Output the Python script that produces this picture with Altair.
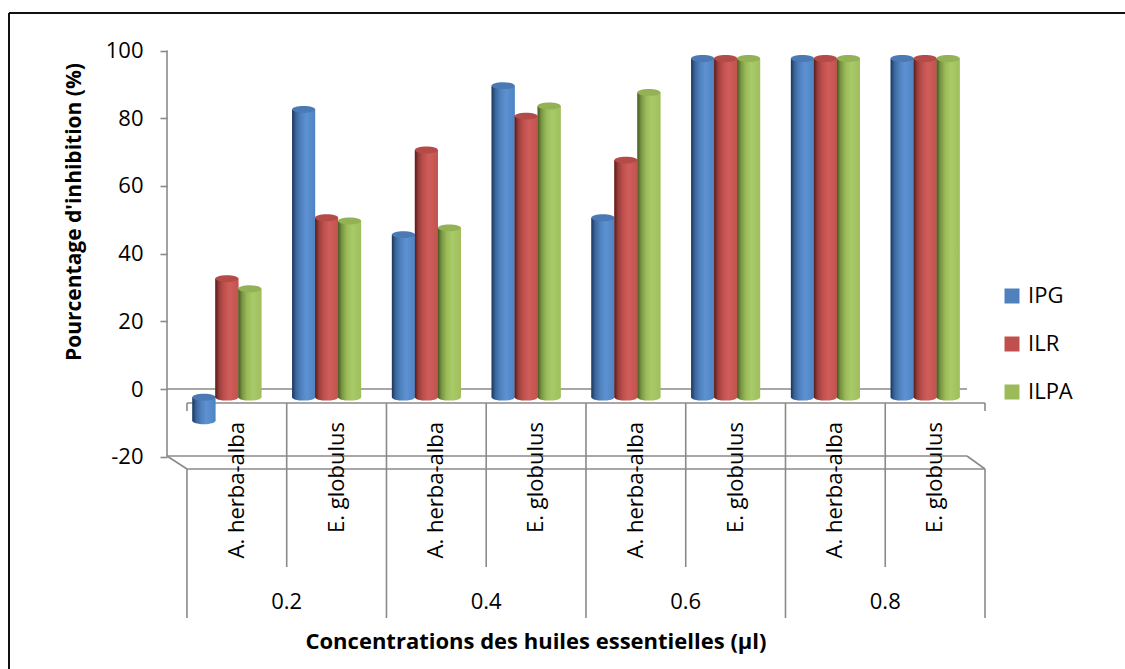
import altair as alt
import pandas as pd

# ---- data -----------------------------------------------------------------
CONCENTRATIONS = ["0.2", "0.4", "0.6", "0.8"]
SPECIES = ["A. herba-alba", "E. globulus"]
SERIES = ["IPG", "ILR", "ILPA"]
IPG = [-7, 85, 48, 92, 53, 100, 100, 100]
ILR = [35, 53, 73, 83, 70, 100, 100, 100]
ILPA = [32, 52, 50, 86, 90, 100, 100, 100]
Y_TICKS = [-20, 0, 20, 40, 60, 80, 100]

SERIES_VALUES = dict(zip(SERIES, [IPG, ILR, ILPA]))
GROUPS = [(c, s) for c in CONCENTRATIONS for s in SPECIES]
GROUP_KEYS = [f"{c} {s}" for c, s in GROUPS]

rows = []
for i, (c, s) in enumerate(GROUPS):
    for name in SERIES:
        rows.append({"group": GROUP_KEYS[i], "conc": c, "species": s,
                     "series": name, "value": SERIES_VALUES[name][i]})
bars_df = pd.DataFrame(rows)
groups_df = pd.DataFrame({"group": GROUP_KEYS,
                          "conc": [c for c, _ in GROUPS],
                          "species": [s for _, s in GROUPS],
                          "idx": list(range(len(GROUPS)))})
ticks_df = pd.DataFrame({"tick": Y_TICKS})
one = pd.DataFrame({"k": [0]})

# ---- styling --------------------------------------------------------------
FONT = "Open Sans"
GRID = "#8a8a8a"
BASE = {"IPG": "#4F81BD", "ILR": "#C0504D", "ILPA": "#9BBB59"}
TOPS = {"IPG": "#4a79b3", "ILR": "#b54b48", "ILPA": "#93b255"}
SHADES = {
    "IPG": ["#1c3557", "#3a659c", "#4f81bd", "#5d91d2", "#4f84c4"],
    "ILR": ["#561b1a", "#983e3c", "#c0504d", "#cf5e5b", "#c4534f"],
    "ILPA": ["#44571f", "#789443", "#9bbb59", "#a9ca68", "#9ebf5b"],
}
STOPS = [0.0, 0.16, 0.38, 0.62, 1.0]


def cylinder(series):
    return alt.Gradient(
        gradient="linear", x1=0, x2=1, y1=0, y2=0,
        stops=[alt.GradientStop(offset=o, color=c)
               for o, c in zip(STOPS, SHADES[series])])


ELLIPSE = "M-1,0A1,0.3,0,1,0,1,0A1,0.3,0,1,0,-1,0Z"

BAR_X = alt.Scale(type="band", domain=GROUP_KEYS, paddingInner=0,
                  paddingOuter=0.1, align=0.5)
TABLE_X = alt.Scale(type="band", domain=GROUP_KEYS, paddingInner=0,
                    paddingOuter=0.1, align=1)
OFFSET = alt.Scale(type="band", domain=SERIES, paddingInner=0, paddingOuter=0.67)
BAR_Y = alt.Scale(domain=[-23, 104], nice=False)
AXIS_Y = alt.Scale(domain=[-25.36, 101.64], nice=False)

W, H = 818, 430


def seg(x1, y1, x2, y2, color=GRID, width=1.6):
    return alt.Chart(one).mark_rule(color=color, strokeWidth=width).encode(
        x=alt.value(x1), y=alt.value(y1), x2=alt.value(x2), y2=alt.value(y2))


# ---- frame & value axis ---------------------------------------------------
frame = alt.layer(
    seg(-158, -32, -158, 700, color="#111111", width=2),
    seg(-158, -32, 1000, -32, color="#111111", width=2),
)

value_axis = alt.Chart(ticks_df).mark_rule(color=GRID, strokeWidth=1.6).encode(
    x=alt.value(0),
    y=alt.Y("min(tick):Q", scale=AXIS_Y, title=None,
            axis=alt.Axis(values=Y_TICKS, domain=False, grid=False,
                          tickSize=7, tickColor=GRID, tickWidth=1.6,
                          labelExpr="'' + datum.value",
                          labelFont=FONT, labelFontSize=22, labelColor="black",
                          labelPadding=17)),
    y2="max(tick):Q",
)

# 3D walls and floor
walls = alt.layer(
    seg(0, 344, 800, 344),      # back line at zero
    seg(0, 411, 800, 411),      # back floor edge
    seg(20, 424, 818, 424),     # front floor edge
    seg(0, 411, 20, 424),
    seg(800, 411, 818, 424),
    seg(20, 358, 818, 358),     # front line at zero
)

# ---- category table -------------------------------------------------------
sub_div = alt.Chart(groups_df).transform_filter(
    alt.datum.species == SPECIES[1]
).mark_rule(color=GRID, strokeWidth=1.6).encode(
    x=alt.X("group:N", scale=TABLE_X, axis=None, bandPosition=0),
    y=alt.value(358), y2=alt.value(522))

conc_div = alt.Chart(groups_df).transform_filter(
    (alt.datum.species == SPECIES[0]) & (alt.datum.idx > 0)
).mark_rule(color=GRID, strokeWidth=1.6).encode(
    x=alt.X("group:N", scale=TABLE_X, axis=None, bandPosition=0),
    y=alt.value(358), y2=alt.value(573))


def edge(pos, which):
    base = alt.Chart(groups_df).transform_filter(alt.datum.idx == which)
    xenc = alt.X("group:N", scale=TABLE_X, axis=None, bandPosition=pos)
    return alt.layer(
        base.mark_rule(color=GRID, strokeWidth=1.6).encode(
            x=xenc, y=alt.value(358), y2=alt.value(366)),
        base.mark_rule(color=GRID, strokeWidth=1.6).encode(
            x=xenc, y=alt.value(424), y2=alt.value(573)),
    )


species_labels = alt.Chart(groups_df).mark_text(
    angle=270, align="right", baseline="middle", font=FONT, fontSize=22,
    color="black"
).encode(x=alt.X("group:N", scale=TABLE_X, axis=None, bandPosition=0.5),
         y=alt.value(377), text="species:N")

conc_labels = alt.Chart(groups_df).transform_filter(
    alt.datum.species == SPECIES[1]
).mark_text(align="center", baseline="middle", font=FONT, fontSize=22,
            color="black").encode(
    x=alt.X("group:N", scale=TABLE_X, axis=None, bandPosition=0),
    y=alt.value(557), text="conc:N")

# ---- cylinders ------------------------------------------------------------
bx = alt.X("group:N", scale=BAR_X, axis=None)
bo = alt.XOffset("series:N", scale=OFFSET)

bars_base = alt.Chart(bars_df).transform_calculate(
    base="0", top="max(datum.value, 0)", bottom="min(datum.value, 0)")

legend_bars = bars_base.mark_bar().encode(
    x=bx, xOffset=bo,
    y=alt.Y("value:Q", scale=BAR_Y, axis=None), y2="base:Q",
    color=alt.Color("series:N", scale=alt.Scale(domain=SERIES,
                                                range=[BASE[s] for s in SERIES]),
                    legend=alt.Legend(orient="none", legendX=834, legendY=240,
                                      title=None, symbolType="square",
                                      symbolSize=225, symbolStrokeWidth=0,
                                      labelFont=FONT, labelFontSize=22,
                                      labelColor="black", rowPadding=26,
                                      labelOffset=5, padding=0)),
)

cyl_layers = [legend_bars]
for s in SERIES:
    part = bars_base.transform_filter(alt.datum.series == s)
    cyl_layers.append(part.mark_point(
        shape=ELLIPSE, size=529, filled=True, fill=cylinder(s), opacity=1,
        strokeWidth=0).encode(x=bx, xOffset=bo,
                              y=alt.Y("bottom:Q", scale=BAR_Y, axis=None)))
    cyl_layers.append(part.mark_bar(fill=cylinder(s)).encode(
        x=bx, xOffset=bo,
        y=alt.Y("value:Q", scale=BAR_Y, axis=None), y2="base:Q"))
    cyl_layers.append(part.mark_point(
        shape=ELLIPSE, size=529, filled=True, fill=TOPS[s], opacity=1,
        strokeWidth=0).encode(x=bx, xOffset=bo,
                              y=alt.Y("top:Q", scale=BAR_Y, axis=None)))
cylinders = alt.layer(*cyl_layers)

# ---- titles ---------------------------------------------------------------
y_title = alt.Chart(one).mark_text(
    angle=270, align="center", baseline="middle", font=FONT, fontSize=21,
    fontWeight="bold", color="black"
).encode(x=alt.value(-92), y=alt.value(167),
         text=alt.value("Pourcentage d'inhibition (%)"))

x_title = alt.Chart(one).mark_text(
    align="center", baseline="middle", font=FONT, fontSize=22,
    fontWeight="bold", color="black"
).encode(x=alt.value(369), y=alt.value(597),
         text=alt.value("Concentrations des huiles essentielles (µl)"))

chart = alt.layer(
    frame, walls, value_axis, sub_div, conc_div, edge(0, 0), edge(1, 7),
    species_labels, conc_labels, cylinders, y_title, x_title,
).resolve_scale(
    x="independent", y="independent", xOffset="independent"
).properties(
    width=W, height=H,
    autosize=alt.AutoSizeParams(type="none"),
    padding={"left": 167, "top": 45, "right": 140, "bottom": 194},
    background="white",
).configure_view(stroke=None)

chart.save("out.html", embed_options={"renderer": "svg", "actions": False})
